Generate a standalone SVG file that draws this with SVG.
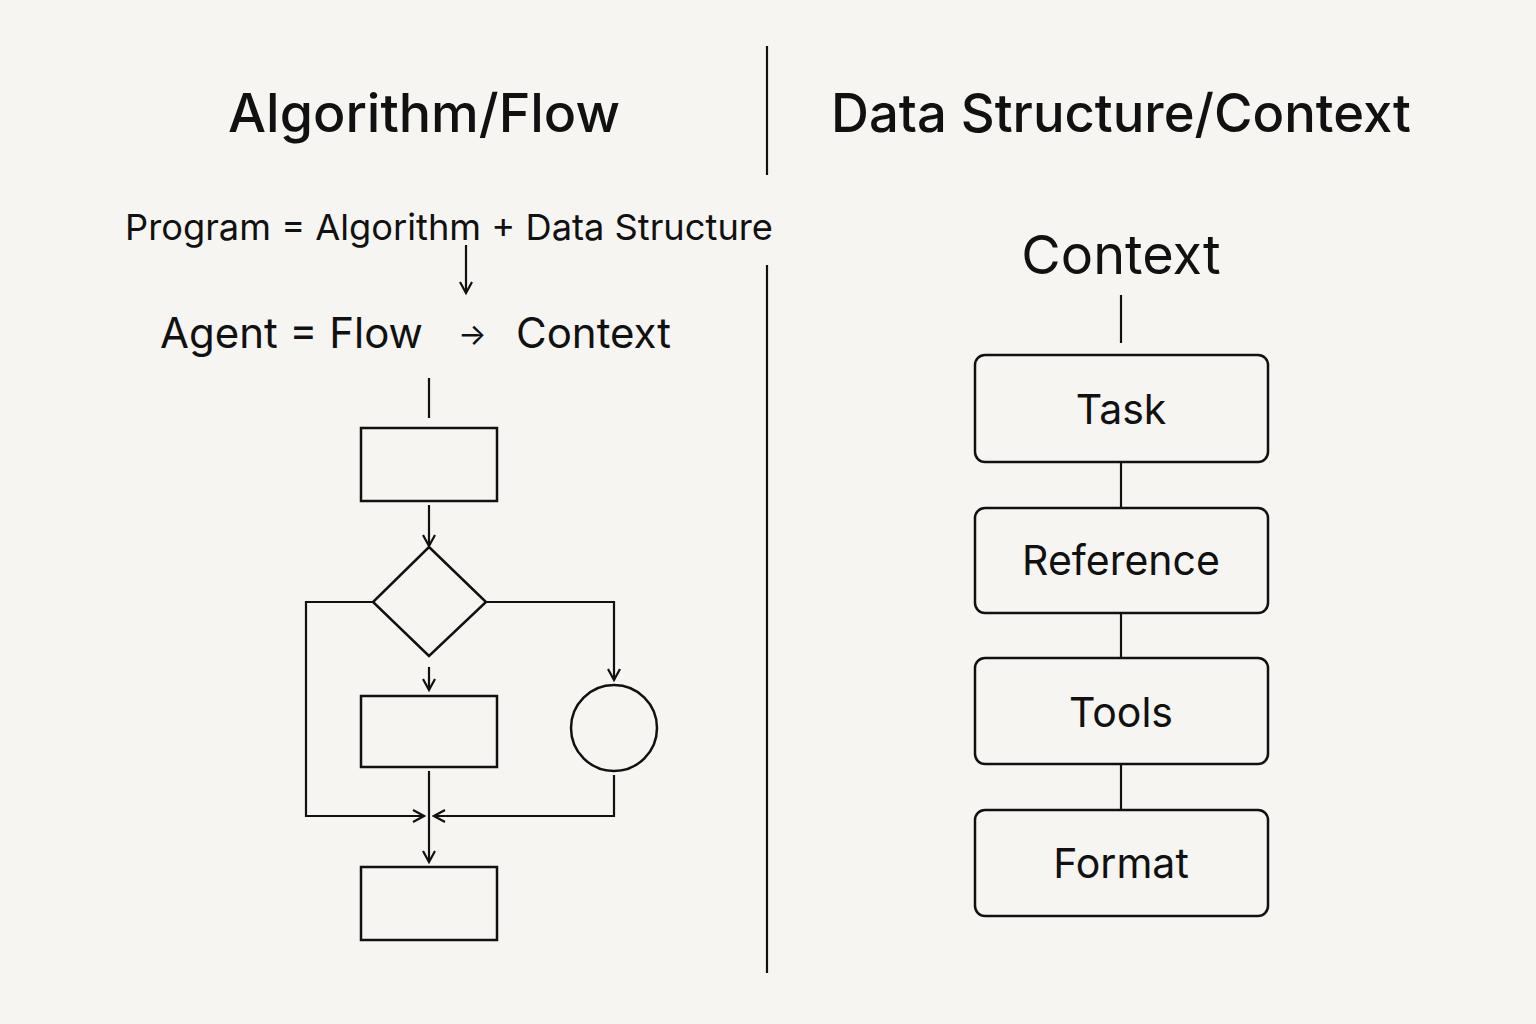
<svg xmlns="http://www.w3.org/2000/svg" width="1536" height="1024" viewBox="0 0 1536 1024">
<defs>
<style>
text{font-family:Inter,"Liberation Sans",sans-serif;fill:#111;}
.title{font-size:53px;font-weight:500;text-anchor:middle;}
.eq{font-size:36px;}
.eq2{font-size:42px;}
.lbl{font-size:41px;text-anchor:middle;}
.sh{fill:none;stroke:#111;stroke-width:2.5;}
.ln{fill:none;stroke:#111;stroke-width:2.2;}
</style>
<marker id="ah" viewBox="0 0 14 14" refX="12" refY="7" markerWidth="14" markerHeight="14" markerUnits="userSpaceOnUse" orient="auto">
<path d="M1,1 L12,7 L1,13" fill="none" stroke="#111" stroke-width="2.2"/>
</marker>
</defs>
<rect width="1536" height="1024" fill="#f6f5f2"/>
<g id="dividers">
<line class="ln" x1="767" y1="46" x2="767" y2="175"/>
<line class="ln" x1="767" y1="265" x2="767" y2="973"/>
</g>
<g id="titles">
<text class="title" x="424" y="132" textLength="392" lengthAdjust="spacingAndGlyphs">Algorithm/Flow</text>
<text class="title" x="1121" y="132" textLength="580" lengthAdjust="spacingAndGlyphs">Data Structure/Context</text>
</g>
<g id="equations">
<text class="eq" x="125" y="240" textLength="648" lengthAdjust="spacingAndGlyphs">Program =  Algorithm + Data Structure</text>
<text class="eq2" x="160" y="348">Agent = Flow</text>
<text style="font-size:30px" x="458" y="345">→</text>
<text class="eq2" x="516" y="348">Context</text>
</g>
<g id="flowchart">
<rect id="box1" class="sh" x="361" y="428" width="136" height="73"/>
<polygon id="decision" class="sh" points="429,547 486,602 429,656 373,602"/>
<rect id="box2" class="sh" x="361" y="696" width="136" height="71"/>
<circle id="circle" class="sh" cx="614" cy="728" r="43"/>
<rect id="box3" class="sh" x="361" y="867" width="136" height="73"/>
</g>
<g id="context-stack">
<text class="title" style="font-size:54px;font-weight:400" x="1121" y="274">Context</text>
<g id="task"><rect class="sh" x="975" y="355" width="293" height="107" rx="10"/><text class="lbl" x="1121" y="424">Task</text></g>
<g id="reference"><rect class="sh" x="975" y="508" width="293" height="105" rx="10"/><text class="lbl" x="1121" y="575">Reference</text></g>
<g id="tools"><rect class="sh" x="975" y="658" width="293" height="106" rx="10"/><text class="lbl" x="1121" y="727">Tools</text></g>
<g id="format"><rect class="sh" x="975" y="810" width="293" height="106" rx="10"/><text class="lbl" x="1121" y="878">Format</text></g>
</g>
<g id="connectors">
<line class="ln" x1="466" y1="245" x2="466" y2="293" marker-end="url(#ah)"/>
<line class="ln" x1="429" y1="378" x2="429" y2="418"/>
<line class="ln" x1="429" y1="505" x2="429" y2="546" marker-end="url(#ah)"/>
<line class="ln" x1="429" y1="667" x2="429" y2="690" marker-end="url(#ah)"/>
<polyline class="ln" points="373,602 306,602 306,816 424,816" marker-end="url(#ah)"/>
<polyline class="ln" points="486,602 614,602 614,680" marker-end="url(#ah)"/>
<polyline class="ln" points="614,775 614,816 434,816" marker-end="url(#ah)"/>
<line class="ln" x1="429" y1="771" x2="429" y2="862" marker-end="url(#ah)"/>
<line class="ln" x1="1121" y1="295" x2="1121" y2="343"/>
<line class="ln" x1="1121" y1="462" x2="1121" y2="508"/>
<line class="ln" x1="1121" y1="613" x2="1121" y2="658"/>
<line class="ln" x1="1121" y1="764" x2="1121" y2="810"/>
</g>
</svg>
